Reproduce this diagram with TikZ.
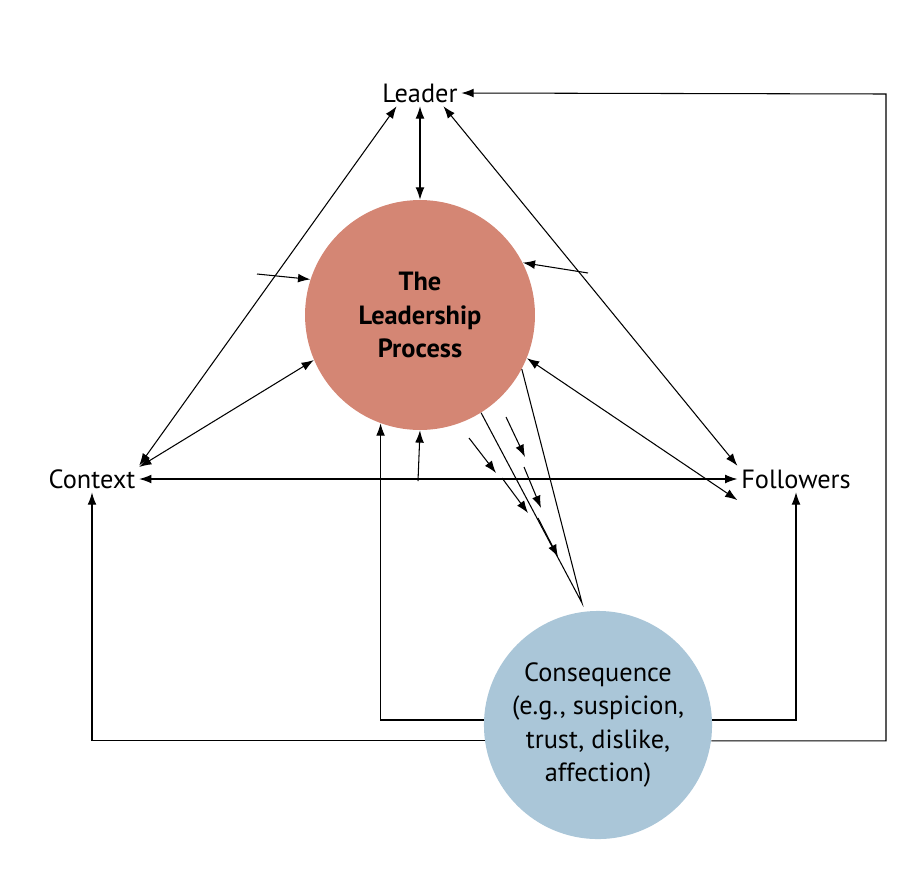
\documentclass[tikz,border=0pt]{standalone}
\usepackage{fontspec}
\setmainfont{PT Sans}
\usetikzlibrary{arrows.meta}
\definecolor{procRed}{RGB}{212,134,116}
\definecolor{conBlue}{RGB}{170,198,216}
\tikzstyle{label} = [font=\fontsize{15}{18}\selectfont, inner sep=2pt]
\tikzstyle{blob} = [circle, text centered, align=center, font=\fontsize{15}{19}\selectfont]
\tikzstyle{arrow} = [semithick, -{Latex[length=7pt,width=5pt]}]
\tikzstyle{both} = [semithick, {Latex[length=7pt,width=5pt]}-{Latex[length=7pt,width=5pt]}]
\tikzstyle{line} = [semithick]

\begin{document}
\begin{tikzpicture}[x=0.02cm, y=-0.02cm]
    \useasboundingbox (0,0) rectangle (918,876);

    \node (leader) [label] at (420,93) {Leader};
    \node (context) [label] at (92,479) {Context};
    \node (followers) [label] at (796,479) {Followers};
    \node (process) [blob, fill=procRed, minimum size=4.6cm] at (420,315) {\textbf{The}\\\textbf{Leadership}\\\textbf{Process}};
    \node (conseq) [blob, fill=conBlue, minimum size=4.5cm] at (598,725) {Consequence\\(e.g., suspicion,\\trust, dislike,\\affection)};

    \coordinate (lcMid) at (257,274);
    \coordinate (lfMid) at (588,273);
    \coordinate (hub) at (418,481);
    \coordinate (apex) at (582,603);

    % triangle
    \draw[both] (leader.south west) ++(18,0) -- (context.north east);
    \draw[both] (leader.south east) ++(-18,0) -- (followers.north west);
    \draw[both] (leader.south) -- (process.north);
    \draw[arrow] (lcMid) -- (process.162);
    \draw[arrow] (lfMid) -- (process.27);
    \draw[both] (context.east) ++(0,-12) -- (process.203);
    \draw[both] (process.-22) -- ([yshift=-12]followers.west);
    \draw[both] (context.east) -- (followers.west);
    \draw[arrow] (hub) -- (process.south);

    % funnel with dashed arrows
    \draw[line] (process.-58) -- (apex) -- (process.-28);
    \draw[arrow] (469,438) -- (496,473);
    \draw[arrow] (502,478) -- (528,513);
    \draw[arrow] (538,518) -- (558,557);
    \draw[arrow] (506,417) -- (525,457);
    \draw[arrow] (524,467) -- (541,508);

    % feedback loops
    \draw[arrow] (conseq.west |- 0,720) -| (process.250);
    \draw[arrow] (conseq.east |- 0,720) -| (followers.south);
    \draw[arrow] (conseq.188) -| (context.south);
    \draw[arrow] (conseq.-8) -| (886,94) -- (leader.east);

\end{tikzpicture}
\end{document}
